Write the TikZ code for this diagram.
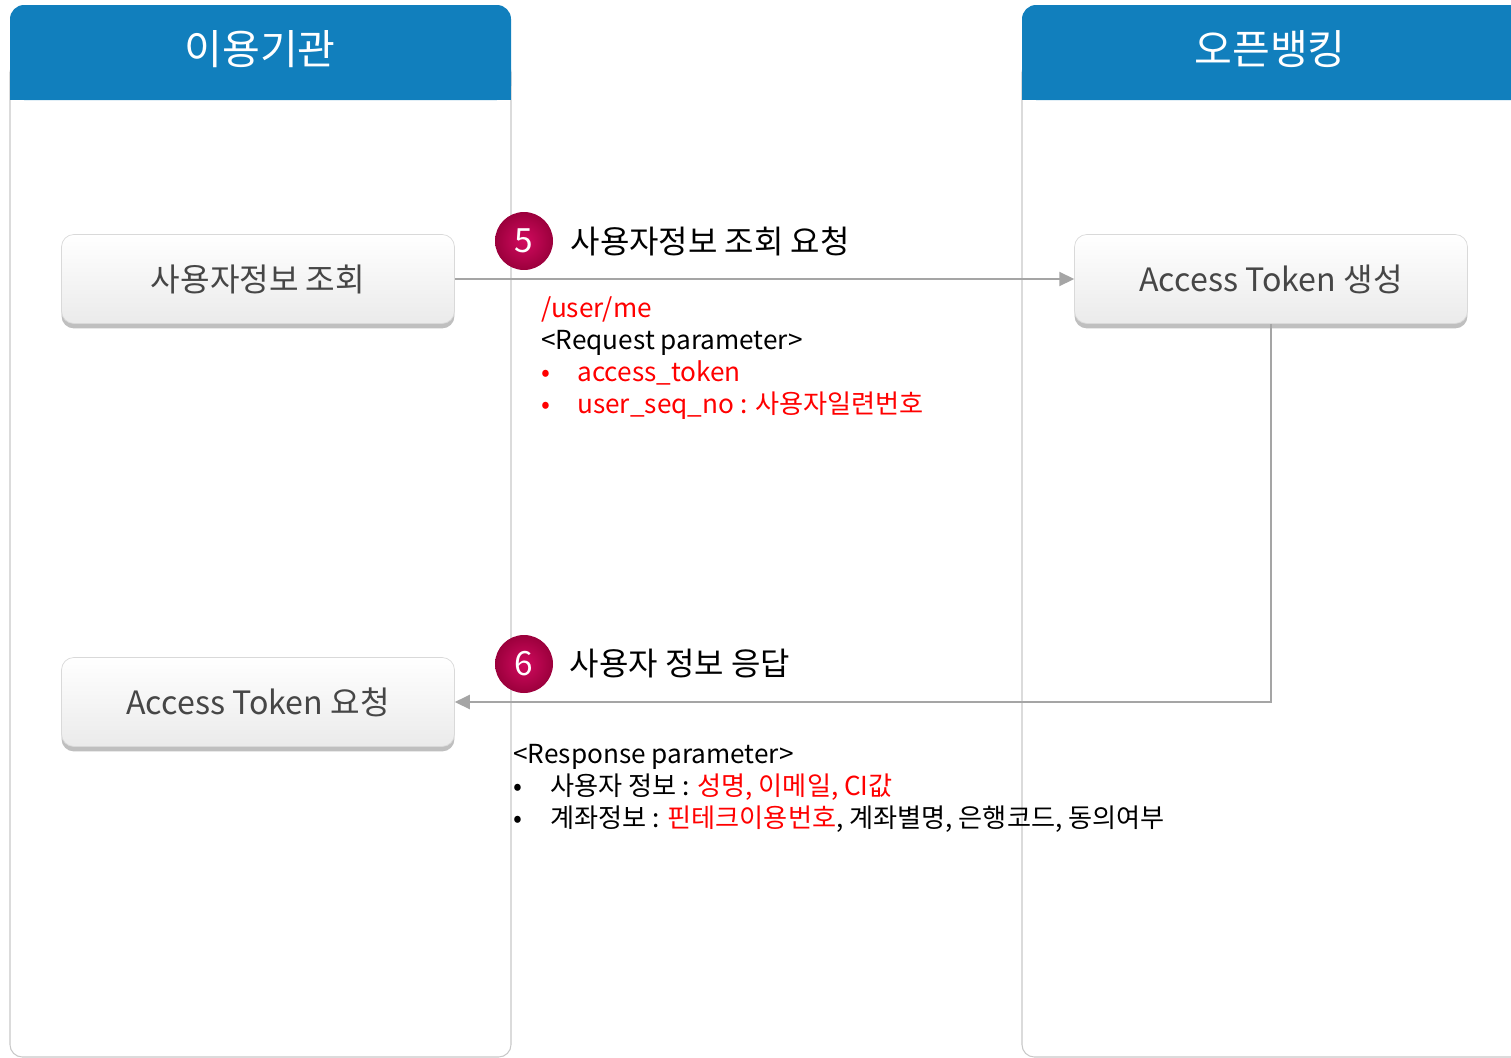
\documentclass[tikz,border=0pt]{standalone}
\usepackage{fontspec}
\setmainfont{Noto Sans CJK KR}
\usetikzlibrary{arrows.meta}
\usetikzlibrary{shadows}
\usetikzlibrary{positioning}

\definecolor{laneBlue}{RGB}{17,127,189}
\definecolor{laneLine}{RGB}{200,200,200}
\definecolor{flowGray}{RGB}{165,165,165}
\definecolor{paramRed}{RGB}{255,0,0}
\definecolor{ballInner}{RGB}{210,10,95}
\definecolor{ballOuter}{RGB}{155,0,60}
\definecolor{boxText}{RGB}{70,70,70}

\tikzset{
  laneFrame/.style = {draw=laneLine, line width=0.6pt},
  laneTitle/.style = {text=white, font=\fontsize{23.4}{28}\selectfont},
  actionBox/.style = {draw=black!15, rounded corners=7pt, top color=white, bottom color=black!8,
                      minimum width=7.86cm, minimum height=1.78cm, text=boxText,
                      font=\fontsize{18.3}{22}\selectfont,
                      drop shadow={shadow xshift=0pt, shadow yshift=-2.8pt, fill=black!25, opacity=1}},
  flow/.style = {draw=flowGray, line width=1.2pt, -{Triangle[length=8.5pt, width=8pt]}},
  stepBall/.style = {circle, minimum size=1.16cm, inner sep=0pt, inner color=ballInner,
                     outer color=ballOuter, text=white, font=\fontsize{19}{22}\selectfont},
  stepText/.style = {anchor=west, inner sep=0pt, font=\fontsize{18.2}{22}\selectfont},
  paramLine/.style = {anchor=base west, inner sep=0pt, font=\fontsize{14.9}{18}\selectfont}
}

\begin{document}
\begin{tikzpicture}[x=0.02cm, y=-0.02cm]

	\useasboundingbox (0,0) rectangle (1511,1058);
	\clip (0,0) rectangle (1511,1058);

	% lanes
	\draw [laneFrame, rounded corners=7pt] (10,60) rectangle (511,1057);
	\fill [laneBlue, rounded corners=8pt] (10,5) rectangle (511,100);
	\fill [laneBlue] (10,60) rectangle (511,100);
	\node [laneTitle] (userLane) at (260,49) {이용기관};

	\draw [laneFrame, rounded corners=7pt] (1022,60) rectangle (1530,1057);
	\fill [laneBlue, rounded corners=8pt] (1022,5) rectangle (1530,100);
	\fill [laneBlue] (1022,60) rectangle (1530,100);
	\node [laneTitle] (bankLane) at (1270,49) {오픈뱅킹};

	% boxes
	\node [actionBox] (userQuery) at (258,279) {사용자정보 조회};
	\node [actionBox] (tokenMake) at (1271,279) {Access Token 생성};
	\node [actionBox] (tokenAsk) at (258,702) {Access Token 요청};

	% flows
	\draw [flow] (userQuery.east) -- (tokenMake.west);
	\draw [flow] (tokenMake.south) |- (tokenAsk.east);

	% step 5
	\node [stepBall] (stepFive) at (524,241) {5};
	\node [stepText, right=0.34cm of stepFive] (stepFiveText) {사용자정보 조회 요청};
	\node [paramLine, text=paramRed] (reqPath) at (541,317) {/user/me};
	\node [paramLine] (reqTitle) at (541,349) {<Request parameter>};
	\node [paramLine, text=paramRed] (reqItemA) at (541,381) {\makebox[0.72cm][l]{•}access\_token};
	\node [paramLine, text=paramRed] (reqItemB) at (541,413) {\makebox[0.72cm][l]{•}user\_seq\_no : 사용자일련번호};

	% step 6
	\node [stepBall] (stepSix) at (524,664) {6};
	\node [stepText, right=0.32cm of stepSix] (stepSixText) {사용자 정보 응답};
	\node [paramLine] (resTitle) at (513,763) {<Response parameter>};
	\node [paramLine] (resItemA) at (513,795) {\makebox[0.74cm][l]{•}사용자 정보 : \textcolor{paramRed}{성명, 이메일, CI값}};
	\node [paramLine] (resItemB) at (513,827) {\makebox[0.74cm][l]{•}계좌정보 : \textcolor{paramRed}{핀테크이용번호}, 계좌별명, 은행코드, 동의여부};

\end{tikzpicture}
\end{document}
